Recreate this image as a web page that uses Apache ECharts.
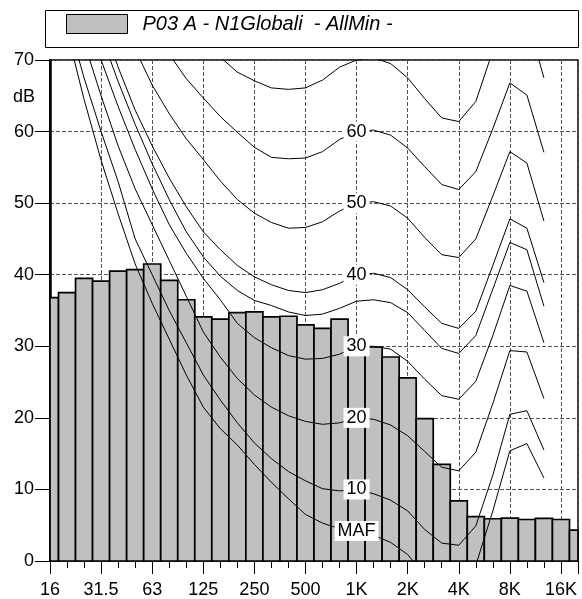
<!DOCTYPE html>
<html><head><meta charset="utf-8">
<script src="https://cdn.jsdelivr.net/npm/echarts/dist/echarts.min.js"></script>
<style>html,body{margin:0;padding:0;background:#fff}#c{width:582px;height:599px}</style>
</head><body><div id="c"></div>
<script>
// ---- DATA ----
// third-octave bands, index 0 = 16 Hz ... 31 = 20 kHz
const bandNames = ['16','20','25','31.5','40','50','63','80','100','125','160','200','250','315','400','500','630','800','1K','1.25K','1.6K','2K','2.5K','3.15K','4K','5K','6.3K','8K','10K','12.5K','16K','20K'];
const tickLabels = ['16','31.5','63','125','250','500','1K','2K','4K','8K','16K'];
const barName = 'P03 A - N1Globali  - AllMin -';
const barValues = [36.8,37.5,39.5,39.1,40.5,40.7,41.5,39.2,36.5,34.1,33.8,34.7,34.8,34.1,34.2,33.0,32.5,33.8,30.4,29.9,28.5,25.6,19.9,13.5,8.4,6.2,5.9,6.0,5.8,5.95,5.8,4.3];
// equal-loudness contours, from 20 Hz (band 1) to 12.5 kHz (band 29)
const curveStart = 1;
const curveMAF = [74,64.5,56,48.5,41.5,36,31,26,21.5,18.5,16.2,13.5,11,8.7,6.5,5.3,4.5,4.2,3.6,2.6,0.9,-2,-4,-4.5,-0.6,7,15.4,16.4,11.6];
const curve10 = [76,67.5,60,53,45,40,35,30.5,26,22.5,19.3,16.5,14.3,12.5,11.2,10.1,9.8,10,9.4,8.5,7.0,4.4,2.5,2.2,4.9,12,20.5,21.0,15.5];
const curve20 = [80,72.5,65,58,52,47,42,37,32,28.5,25.5,23.2,21.5,20.3,19.5,19.1,19.3,20,19.8,19.0,17.5,15.3,13.1,12.6,15.2,22,29.4,29.2,22.7];
const curve30 = [84,77,70,63.5,57.5,52,47,43,39.5,36.5,33.2,31.2,29.8,28.7,28.2,28.3,28.9,30,30,29.6,27.9,25.4,23.1,22.6,25.1,31.5,38.5,37.7,30.5];
const curveSpectrum = [87,80,73.5,67,61,55.5,50.5,46,42.5,39.8,37.8,36.4,35.7,34.8,34.3,34.5,35.3,36.3,36.5,36.1,34.7,32.2,29.7,29.0,31.5,38,44.5,43.5,35.6];
const curve40 = [90,83,76,69,63,58,53.5,49.5,46,43.5,41.3,39.7,38.6,37.8,37.5,37.9,38.8,40,40.2,39.6,37.9,35.5,33.2,32.5,34.9,41.3,47.8,46.5,38.9];
const curve50 = [95,88,82,76.5,71.5,66.5,62.5,59,56.1,53.1,50.5,48.6,47.3,46.5,46.6,47.4,48.9,50,50.2,49.6,47.9,45.2,42.8,42.4,45.0,51,57.2,55.6,47.5];
const curve60 = [100,94,88,84,80,76,70.8,67.4,64.7,62.1,59.9,57.8,56.4,56.2,56.3,57.2,58.9,60,60.2,59.5,57.7,55.1,52.6,51.9,54.4,60.4,66.8,65.1,57.1];
const curve70 = [105,100,95,91,87,83,80,76.5,73,70.4,68.3,67.1,66.1,65.9,66.1,67.2,69,70,70.3,69.5,67.5,64.6,61.9,61.4,64.2,71.3,76.8,75.9,67.5];
const curveLabels = ['MAF','10','20','30','','40','50','60',''];
const labelBand = 18; // 1 kHz

// ---- CHART ----
const FONT = '"Liberation Sans", Arial, Helvetica, sans-serif';
const chart = echarts.init(document.getElementById('c'), null, {renderer:'canvas', width:582, height:599});
const curves = [curveMAF, curve10, curve20, curve30, curveSpectrum, curve40, curve50, curve60, curve70];

const lineSeries = curves.map((vals, ci) => ({
  type: 'line',
  name: 'c' + ci,
  data: vals.map((v, k) => {
    const i = k + curveStart;
    const item = { value: [i, v] };
    if (i === labelBand && curveLabels[ci]) {
      item.label = { show: true, formatter: curveLabels[ci] };
    }
    return item;
  }),
  symbol: 'circle',
  symbolSize: 0.01,
  showSymbol: true,
  showAllSymbol: true,
  itemStyle: { color: '#000' },
  lineStyle: { color: '#000', width: 1 },
  label: {
    show: false, position: 'inside', offset: [0, -6],
    color: '#000', fontSize: 18, fontFamily: FONT,
    backgroundColor: '#fff', padding: [1, 3]
  },
  labelLayout: { hideOverlap: false },
  clip: true,
  silent: true,
  z: 4,
  animation: false
}));

function renderBar(params, api) {
  const i = api.value(0), v = api.value(1);
  const p0 = api.coord([i - 0.5, v]);
  const p1 = api.coord([i + 0.5, 0]);
  const cs = params.coordSys;
  const shape = echarts.graphic.clipRectByRect(
    { x: p0[0], y: p0[1], width: p1[0] - p0[0], height: p1[1] - p0[1] },
    { x: cs.x, y: cs.y, width: cs.width, height: cs.height }
  );
  if (!shape) return null;
  return { type: 'rect', shape: shape, style: { fill: '#c0c0c0', stroke: '#000', lineWidth: 1.7 } };
}

const option = {
  animation: false,
  backgroundColor: '#fff',
  grid: { left: 50, right: 4, top: 60, bottom: 37, show: true, borderColor: '#000', borderWidth: 1.5, backgroundColor: 'transparent' },
  legend: {
    data: [barName], left: 66, top: 14, padding: 0, itemWidth: 61, itemHeight: 19, icon: 'rect',
    selectedMode: false,
    itemStyle: { color: '#c0c0c0', borderColor: '#000', borderWidth: 1 },
    textStyle: { fontStyle: 'italic', fontSize: 20, fontFamily: FONT, color: '#000', padding: [0, 0, 0, 10] }
  },
  graphic: [
    { type: 'rect', shape: { x: 45.5, y: 10.5, width: 533, height: 37 }, style: { fill: 'none', stroke: '#000', lineWidth: 1 }, z: 0 },
    { type: 'text', x: 35, y: 97, style: { text: 'dB', fontSize: 18, fontFamily: FONT, fill: '#000', align: 'right', verticalAlign: 'middle' } }
  ],
  xAxis: [
    {
      type: 'value', min: 0, max: bandNames.length - 1, interval: 3, position: 'bottom',
      axisLine: { show: false },
      axisTick: { show: true, length: 13, lineStyle: { color: '#000', width: 1 } },
      axisLabel: { formatter: v => tickLabels[v / 3] || '', fontSize: 18, fontFamily: FONT, color: '#000', margin: 20 },
      splitLine: { show: true, lineStyle: { color: '#555', width: 1, type: [4, 2] } }
    },
    {
      type: 'value', min: 0, max: bandNames.length - 1, interval: 1, position: 'bottom',
      axisLine: { show: false },
      axisTick: { show: true, length: 7, lineStyle: { color: '#000', width: 1 } },
      axisLabel: { show: false },
      splitLine: { show: false }
    }
  ],
  yAxis: [
    {
      type: 'value', min: 0, max: 70, interval: 10,
      axisLine: { show: true, lineStyle: { color: '#000', width: 2 } },
      axisTick: { show: true, length: 15, lineStyle: { color: '#000', width: 1 } },
      axisLabel: { fontSize: 18, fontFamily: FONT, color: '#000', margin: 16 },
      splitLine: { show: true, lineStyle: { color: '#555', width: 1, type: [4, 2] } }
    },
    {
      type: 'value', min: 0, max: 70, position: 'right',
      axisLine: { show: true, lineStyle: { color: '#000', width: 2.5 } },
      axisTick: { show: false }, axisLabel: { show: false }, splitLine: { show: false }
    }
  ],
  series: [
    {
      type: 'custom', name: barName,
      data: barValues.map((v, i) => [i, v]),
      renderItem: renderBar,
      itemStyle: { color: '#c0c0c0', borderColor: '#000', borderWidth: 1 },
      z: 2, silent: true
    }
  ].concat(lineSeries)
};
chart.setOption(option);
</script>
</body></html>
